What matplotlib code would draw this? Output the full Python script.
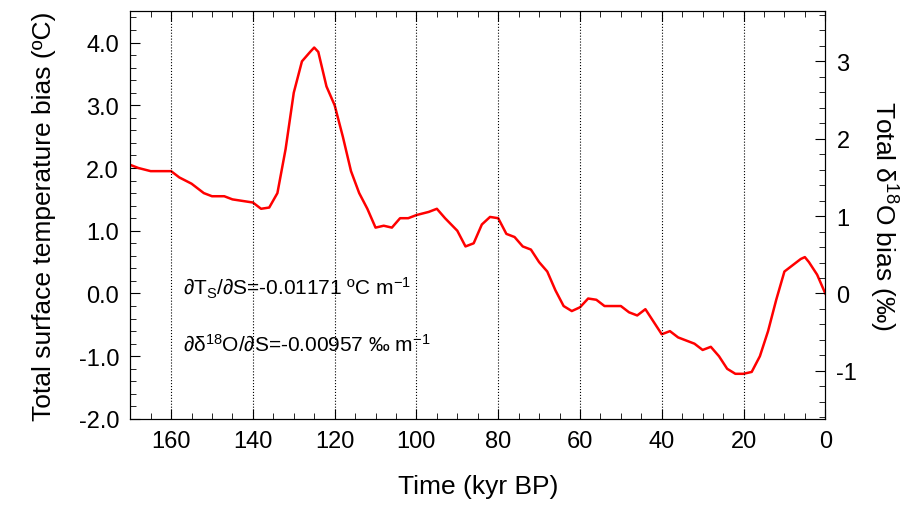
import matplotlib
matplotlib.use("Agg")
import matplotlib.pyplot as plt
import numpy as np
from matplotlib.ticker import MultipleLocator

plt.rcParams['font.family'] = ['Liberation Sans', 'DejaVu Sans']
plt.rcParams['axes.unicode_minus'] = False
plt.rcParams['mathtext.default'] = 'regular'

time_kyr = [170, 168, 165, 162, 160, 158, 155, 152, 150, 147, 145, 142, 140, 138, 136, 134, 132, 130, 128,
            126, 125, 124, 122, 120, 118, 116, 114, 112, 110, 108, 106, 104, 102, 100, 97, 95, 93, 90, 88,
            86, 84, 82, 80, 78, 76, 74, 72, 70, 68, 66, 64, 62, 60, 58, 56, 54, 52, 50, 48, 46, 44, 42, 40,
            38, 36, 34, 32, 30, 28, 26, 24, 22, 20, 18, 16, 14, 12, 10, 8, 6, 5, 4, 2, 0]
temp_bias = [2.05, 2.0, 1.95, 1.95, 1.95, 1.85, 1.75, 1.6, 1.55, 1.55, 1.5, 1.47, 1.45, 1.35, 1.37, 1.6, 2.3,
             3.2, 3.7, 3.85, 3.92, 3.85, 3.3, 3.0, 2.5, 1.95, 1.6, 1.35, 1.05, 1.08, 1.05, 1.2, 1.2, 1.25, 1.3,
             1.35, 1.2, 1.0, 0.75, 0.8, 1.1, 1.22, 1.2, 0.95, 0.9, 0.75, 0.7, 0.5, 0.35, 0.05, -0.2, -0.28,
             -0.22, -0.08, -0.1, -0.2, -0.2, -0.2, -0.3, -0.35, -0.25, -0.45, -0.65, -0.6, -0.7, -0.75, -0.8,
             -0.9, -0.85, -1.0, -1.2, -1.28, -1.28, -1.25, -1.0, -0.6, -0.1, 0.35, 0.45, 0.55, 0.58, 0.5,
             0.3, 0.0]

fig, ax = plt.subplots(figsize=(9.17, 5.06), dpi=100)
fig.subplots_adjust(left=0.142, right=0.9, top=0.976, bottom=0.17)
ax.plot(time_kyr, temp_bias, color='red', lw=1.8)
ax.set_xlim(170, 0)
ax.set_ylim(-2.0, 4.5)
ax.xaxis.set_major_locator(MultipleLocator(20))
ax.xaxis.set_minor_locator(MultipleLocator(5))
ax.yaxis.set_minor_locator(MultipleLocator(0.2))
ax.set_yticks(np.arange(-2, 4.1, 1.0))
ax.set_yticklabels(["%.1f" % v for v in np.arange(-2, 4.1, 1.0)])
for xv in range(20, 170, 20):
    ax.axvline(xv, color='black', ls=':', lw=0.8)
ax.tick_params(labelsize=17, direction='in', length=7, top=True, pad=8)
ax.tick_params(which='minor', direction='in', length=4, top=True)
ax.set_xlabel("Time (kyr BP)", fontsize=19, labelpad=16)
ax.set_ylabel("Total surface temperature bias (ºC)", fontsize=19, labelpad=16)

ax2 = ax.twinx()
ax2.set_ylim(-2.0 * 0.811, 4.5 * 0.811)
ax2.yaxis.set_major_locator(MultipleLocator(1))
ax2.yaxis.set_minor_locator(MultipleLocator(0.2))
ax2.tick_params(labelsize=17, direction='in', length=7, pad=8)
ax2.tick_params(which='minor', direction='in', length=4)
ax2.set_ylabel("Total δ$^{18}$O bias (‰)", fontsize=19, rotation=270, labelpad=30)

ax.text(157, 0.1, "∂T$_S$/∂S=-0.01171 ºC m$^{-1}$", fontsize=15, va='center')
ax.text(157, -0.8, "∂δ$^{18}$O/∂S=-0.00957 ‰ m$^{-1}$", fontsize=15, va='center')

fig.savefig("out.png")
